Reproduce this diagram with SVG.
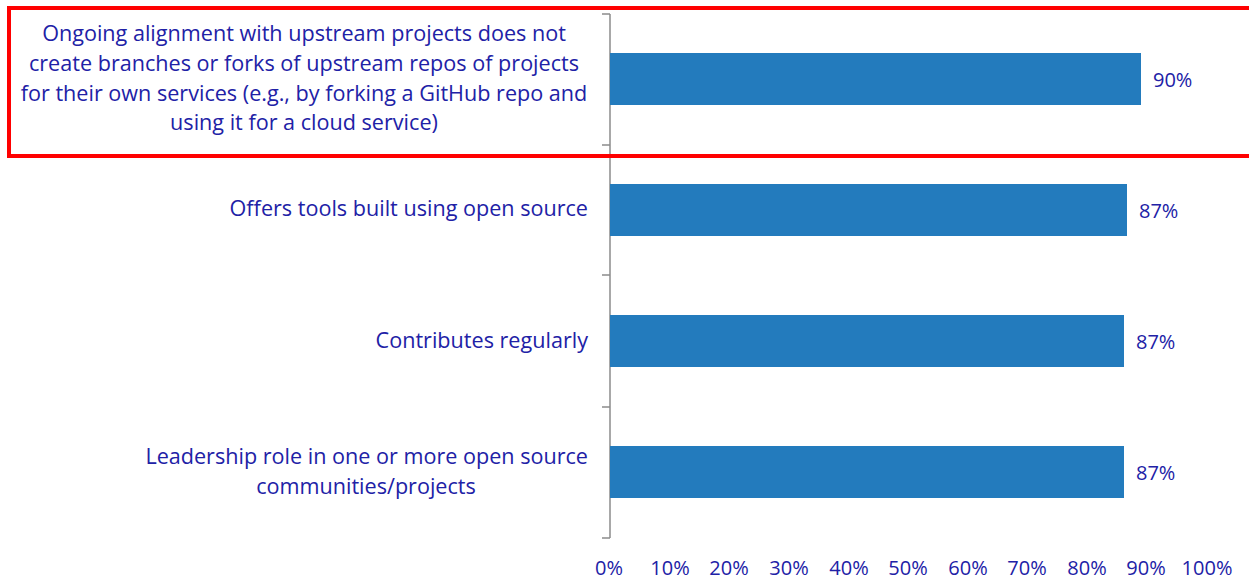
<svg xmlns="http://www.w3.org/2000/svg" width="1249" height="580" viewBox="0 0 1249 580">
<style>
text{font-family:"Open Sans","Noto Sans","DejaVu Sans",sans-serif;font-size:20px;fill:#2121a6}
.lbl{font-size:21.6px}
.cat{text-anchor:end}
.mid{text-anchor:middle}
.bar{fill:#237bbd}
.axis{stroke:#8c8c8c;stroke-width:1.5;fill:none}
</style>
<rect width="1249" height="580" fill="#ffffff"/>
<g id="axis">
<path class="axis" d="M610 14V538M602 14H610M602 145H610M602 275H610M602 407H610M602 538H610"/>
</g>
<g id="bar1">
<rect class="bar" x="610" y="53" width="531" height="52"/>
<text x="1153" y="87">90%</text>
<text class="lbl mid" x="304" y="41">Ongoing alignment with upstream projects does not</text>
<text class="lbl mid" x="304" y="71">create branches or forks of upstream repos of projects</text>
<text class="lbl mid" x="304" y="101">for their own services (e.g., by forking a GitHub repo and</text>
<text class="lbl mid" x="304" y="130">using it for a cloud service)</text>
</g>
<g id="bar2">
<rect class="bar" x="610" y="184" width="517" height="52"/>
<text x="1139" y="218">87%</text>
<text class="lbl cat" x="588" y="216">Offers tools built using open source</text>
</g>
<g id="bar3">
<rect class="bar" x="610" y="315" width="514" height="52"/>
<text x="1136" y="349">87%</text>
<text class="lbl cat" x="588" y="348">Contributes regularly</text>
</g>
<g id="bar4">
<rect class="bar" x="610" y="446" width="514" height="52"/>
<text x="1136" y="480">87%</text>
<text class="lbl cat" x="588" y="464">Leadership role in one or more open source</text>
<text class="lbl mid" x="366" y="494">communities/projects</text>
</g>
<g id="ticks">
<text class="mid" x="609" y="575">0%</text>
<text class="mid" x="670" y="575">10%</text>
<text class="mid" x="729" y="575">20%</text>
<text class="mid" x="789" y="575">30%</text>
<text class="mid" x="849" y="575">40%</text>
<text class="mid" x="908" y="575">50%</text>
<text class="mid" x="968" y="575">60%</text>
<text class="mid" x="1027" y="575">70%</text>
<text class="mid" x="1087" y="575">80%</text>
<text class="mid" x="1146" y="575">90%</text>
<text class="mid" x="1207" y="575">100%</text>
</g>
<g id="highlight">
<rect x="9" y="8" width="1250" height="148" fill="none" stroke="#ff0000" stroke-width="4"/>
</g>
</svg>
